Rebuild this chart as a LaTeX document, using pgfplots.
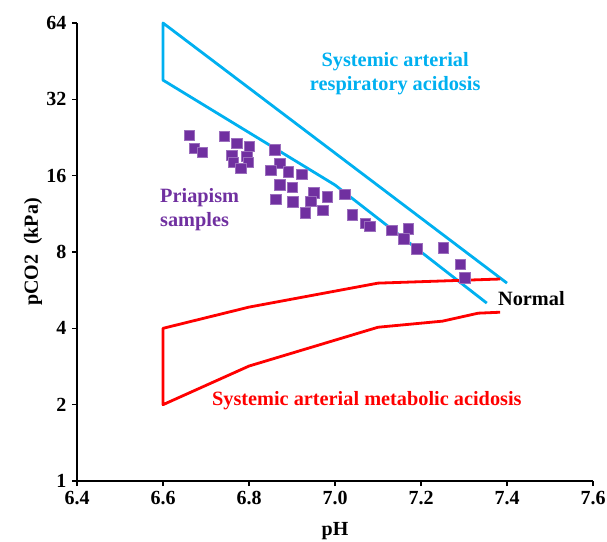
\documentclass[border=0pt]{standalone}
\usepackage{pgfplots}
\pgfplotsset{compat=1.18}
\usepackage{fontspec}
\setmainfont{Liberation Serif}
\definecolor{cblue}{RGB}{0,176,240}
\definecolor{cpurple}{RGB}{112,48,160}
\definecolor{cred}{RGB}{255,0,0}
\begin{document}
\begin{tikzpicture}
\begin{axis}[
  at={(0pt,0pt)}, anchor=south west,
  width=516pt, height=458pt, scale only axis=true,
  xmin=6.4, xmax=7.6, ymin=1, ymax=64,
  ymode=log, log basis y=2,
  ytick={1,2,4,8,16,32,64},
  yticklabels={1,2,4,8,16,32,64},
  xtick={6.4,6.6,6.8,7.0,7.2,7.4,7.6},
  xticklabels={6.4,6.6,6.8,7.0,7.2,7.4,7.6},
  ticklabel style={font=\fontsize{20}{23}\selectfont\bfseries},
  axis x line=bottom, axis y line=left,
  axis line style={-, line width=1.5pt, black},
  tick style={line width=1.2pt, black},
  tick align=outside, major tick length=5pt,
  xticklabel style={yshift=-2pt},
  yticklabel style={xshift=-2pt},
  xlabel={pH}, ylabel={pCO2\ \ (kPa)},
  label style={font=\fontsize{20}{23}\selectfont\bfseries},
  xlabel style={at={(axis description cs:0.5,-0.11)}, anchor=center},
  ylabel style={at={(axis description cs:-0.085,0.5)}, anchor=center},
  clip=false,
]
% respiratory acidosis region
\addplot[cblue, line width=2.8pt, line join=round] coordinates {
  (7.40,6.03) (6.60,64) (6.60,38.1) (7.00,14.7) (7.353,5.03)
};
% metabolic acidosis region
\addplot[cred, line width=2.8pt, line join=round] coordinates {
  (7.384,6.26) (7.10,6.03) (6.80,4.85) (6.60,4.0) (6.60,2.0)
  (6.80,2.84) (7.10,4.04) (7.25,4.27) (7.333,4.59) (7.384,4.63)
};
% priapism samples
\addplot[only marks, mark=square*, mark size=5.3pt,
  mark options={fill=cpurple, draw=cpurple!70!white, line width=0.4pt}] coordinates {
  (6.661,23.1) (6.673,20.5) (6.691,19.8) (6.742,22.9)
  (6.772,21.5) (6.800,20.9) (6.760,19.3) (6.795,19.1)
  (6.763,18.1) (6.798,18.1) (6.781,17.1)
  (6.860,20.3) (6.872,17.9) (6.851,16.8) (6.891,16.6) (6.923,16.2)
  (6.872,14.7) (6.900,14.4) (6.862,12.9) (6.902,12.6)
  (6.951,13.7) (6.943,12.7) (6.982,13.2) (6.971,11.7) (6.931,11.4)
  (7.022,13.5) (7.040,11.2) (7.070,10.4) (7.081,10.1)
  (7.132,9.76) (7.170,9.88) (7.160,9.05) (7.190,8.26)
  (7.252,8.34) (7.291,7.15) (7.301,6.35)
};
\node[cblue, font=\fontsize{20.3}{24}\selectfont\bfseries, align=center]
  at (axis cs:7.14,40.3) {Systemic arterial\\respiratory acidosis};
\node[cpurple, font=\fontsize{20.3}{24}\selectfont\bfseries, align=left, anchor=west, inner sep=0pt]
  at (axis cs:6.593,11.8) {Priapism\\samples};
\node[black, font=\fontsize{20.3}{24}\selectfont\bfseries, anchor=west, inner sep=0pt]
  at (axis cs:7.379,5.22) {Normal};
\node[cred, font=\fontsize{20.3}{24}\selectfont\bfseries]
  at (axis cs:7.074,2.065) {Systemic arterial metabolic acidosis};
\end{axis}
\pgfresetboundingbox
\path[use as bounding box] (-77pt,-60pt) rectangle (530pt,481pt);
\end{tikzpicture}
\end{document}
